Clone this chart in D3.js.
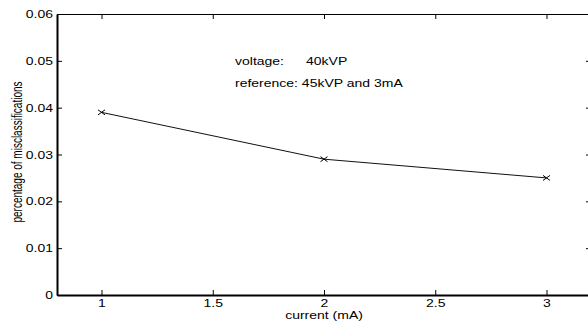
<!DOCTYPE html>
<html>
<head>
<meta charset="utf-8">
<script src="https://cdn.jsdelivr.net/npm/d3@7"></script>
<style>
  html, body { margin: 0; padding: 0; background: #fff; }
  svg { display: block; }
  text { font-family: "Liberation Sans", Arial, Helvetica, sans-serif; fill: #000; }
</style>
</head>
<body>
<script>
const currents = [1, 2, 3];
const misclassification = [0.039, 0.029, 0.025];
const xTicks = [1, 1.5, 2, 2.5, 3];
const yTicks = [0, 0.01, 0.02, 0.03, 0.04, 0.05, 0.06];
const xTickLabels = ["1", "1.5", "2", "2.5", "3"];
const yTickLabels = ["0", "0.01", "0.02", "0.03", "0.04", "0.05", "0.06"];
const annotations = [
  { a: "voltage:", b: "40kVP" },
  { a: "reference: 45kVP and 3mA", b: "" }
];
const xLabel = "current (mA)";
const yLabel = "percentage of misclassifications";

const W = 588, H = 321;
const SX = 1.4;   // horizontal stretch of the text
const FS = 10;

const svg = d3.select("body").append("svg").attr("width", W).attr("height", H);

const x = d3.scaleLinear().domain([0.8, 3.2]).range([57, 591]);
const y = d3.scaleLinear().domain([0, 0.06]).range([295, 14]);

// Axes (ticks inward)
const gBottom = svg.append("g").attr("transform", `translate(0,${y(0)})`)
  .call(d3.axisBottom(x).tickValues(xTicks).tickSizeInner(-5).tickSizeOuter(0).tickFormat((d, i) => xTickLabels[i]));
const gTop = svg.append("g").attr("transform", `translate(0,${y(0.06)})`)
  .call(d3.axisTop(x).tickValues(xTicks).tickSizeInner(-5).tickSizeOuter(0).tickFormat(""));
const gLeft = svg.append("g").attr("transform", `translate(${x(0.8)},0)`)
  .call(d3.axisLeft(y).tickValues(yTicks).tickSizeInner(-5).tickSizeOuter(0).tickFormat((d, i) => yTickLabels[i]));
const gRight = svg.append("g").attr("transform", `translate(${x(3.2)},0)`)
  .call(d3.axisRight(y).tickValues(yTicks).tickSizeInner(-5).tickSizeOuter(0).tickFormat(""));

[gBottom, gTop, gLeft, gRight].forEach(g => {
  g.selectAll(".tick line").attr("stroke", "#000").attr("stroke-width", 1);
  g.select(".domain").attr("stroke", "#000");
});
gBottom.select(".domain").attr("stroke-width", 2);
gLeft.select(".domain").attr("stroke-width", 2);
gTop.select(".domain").attr("stroke-width", 1.2);

gBottom.selectAll(".tick text")
  .attr("x", null).attr("y", null).attr("dy", null)
  .attr("transform", `translate(0,12) scale(${SX},1)`)
  .attr("text-anchor", "middle")
  .style("font-size", FS + "px").style("font-family", null);
gLeft.selectAll(".tick text")
  .attr("x", null).attr("y", null).attr("dy", null)
  .attr("transform", `translate(-4,3.6) scale(${SX},1)`)
  .attr("text-anchor", "end")
  .style("font-size", FS + "px").style("font-family", null);
svg.selectAll(".tick text").attr("font-family", null).attr("font-size", null);

// Line and markers
const pts = currents.map((c, i) => [c, misclassification[i]]);
svg.append("path")
  .datum(pts)
  .attr("fill", "none")
  .attr("stroke", "#111")
  .attr("stroke-width", 1)
  .attr("d", d3.line().x(d => x(d[0])).y(d => y(d[1])));

svg.selectAll("path.marker")
  .data(pts)
  .enter().append("path")
  .attr("class", "marker")
  .attr("fill", "none")
  .attr("stroke", "#000")
  .attr("stroke-width", 1)
  .attr("d", d => {
    const cx = x(d[0]), cy = y(d[1]), rx = 3.5, ry = 2.5;
    return `M${cx - rx},${cy - ry}L${cx + rx},${cy + ry}M${cx - rx},${cy + ry}L${cx + rx},${cy - ry}`;
  });

// Annotations
const ann = svg.append("g");
ann.append("text").attr("transform", `translate(235,65) scale(${SX},1)`)
  .style("font-size", FS + "px").text(annotations[0].a);
ann.append("text").attr("transform", `translate(306,65) scale(${SX},1)`)
  .style("font-size", FS + "px").text(annotations[0].b);
ann.append("text").attr("transform", `translate(235,87) scale(${SX},1)`)
  .style("font-size", FS + "px").text(annotations[1].a);

// Axis labels
svg.append("text")
  .attr("transform", `translate(${(x(0.8) + x(3.2)) / 2 - 0},318.5) scale(${SX},1)`)
  .attr("text-anchor", "middle")
  .style("font-size", FS + "px")
  .text(xLabel);
svg.append("text")
  .attr("transform", `translate(21.5,152) scale(${SX},1) rotate(-90)`)
  .attr("text-anchor", "middle")
  .style("font-size", FS + "px")
  .text(yLabel);
</script>
</body>
</html>
